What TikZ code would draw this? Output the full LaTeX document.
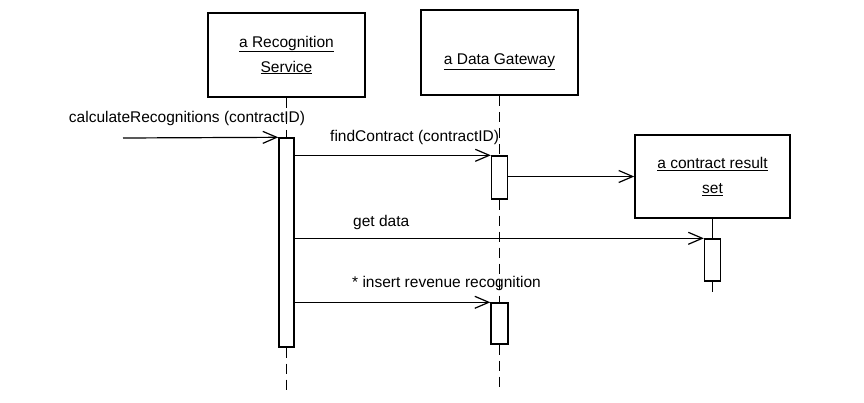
\documentclass[tikz,border=0pt]{standalone}
\usepackage{fontspec}
\setmainfont{Liberation Sans}
\usetikzlibrary{arrows.meta}
\begin{document}
\begin{tikzpicture}[x=1pt,y=-1pt,
  obj/.style={draw,line width=1.5pt,inner sep=0pt,align=center,font=\fontsize{15.5}{25}\selectfont},
  actbar/.style={draw,line width=1.4pt,fill=white,inner sep=0pt},
  msg/.style={line width=1.2pt,-{Straight Barb[length=14pt,width=12pt,line width=1.2pt]}},
  life/.style={line width=1.2pt,dash pattern=on 10pt off 6pt},
  lifesolid/.style={line width=1.2pt},
  lbl/.style={font=\fontsize{15.5}{18}\selectfont,inner sep=0pt}]
\useasboundingbox[fill=white] (0,0) rectangle (864,402);

% objects
\node[obj,minimum width=157pt,minimum height=84pt] (box1) at (286.5,55) {\underline{a Recognition}\\\underline{Service}};
\node[obj,minimum width=157pt,minimum height=85pt] (box2) at (499.5,52.5) {\raisebox{-12pt}[0pt][0pt]{\underline{a Data Gateway}}};
\node[obj,minimum width=155pt,minimum height=83pt] (rs) at (712.5,176.5) {\underline{a contract result}\\\underline{set}};

% end points of lifelines
\coordinate (end1) at (286.5,390);
\coordinate (end2) at (499.5,387);
\coordinate (end3) at (712.5,293);
\coordinate (src) at (123,138);

% activation positions (invisible first for lifelines)
\path (286.5,242.5) node[actbar,draw=none,fill=none,minimum width=15pt,minimum height=209pt] (act1) {};
\path (499.5,177.5) node[actbar,draw=none,fill=none,minimum width=16pt,minimum height=43pt] (act2) {};
\path (712.5,260) node[actbar,draw=none,fill=none,minimum width=16pt,minimum height=42pt] (act3) {};
\path (499.5,323.5) node[actbar,draw=none,fill=none,minimum width=17pt,minimum height=41pt] (act4) {};

% lifelines
\draw[life] (box1.south) -- (act1.north);
\draw[life] (act1.south) -- (end1);
\draw[life] (box2.south) -- (act2.north);
\draw[life] (act2.south) -- (act4.north);
\draw[life] (act4.south) -- (end2);
\draw[lifesolid] (rs.south) -- (act3.north);
\draw[life] (act3.south) -- (end3);

% activation bars
\node[actbar,minimum width=15pt,minimum height=209pt] at (act1.center) {};
\node[actbar,minimum width=16pt,minimum height=43pt] at (act2.center) {};
\node[actbar,minimum width=16pt,minimum height=42pt] at (act3.center) {};
\node[actbar,minimum width=17pt,minimum height=41pt] at (act4.center) {};

% messages
\draw[msg] (src) -- (act1.north west);
\draw[msg] (act1.east |- act2.north) -- (act2.north west);
\draw[msg] (act2.east |- rs.west) -- (rs.west);
\draw[msg] (act1.east |- act3.north) -- (act3.north west);
\draw[msg] (act1.east |- act4.north) -- (act4.north west);

% labels
\node[lbl] (lcalc) at (187,118) {calculateRecognitions (contractID)};
\node[lbl,anchor=west] (lfind) at (330,137) {findContract (contractID)};
\node[lbl,anchor=west] (lget) at (353,222) {get data};
\node[lbl,anchor=west] (lins) at (352,283) {* insert revenue recognition};
\end{tikzpicture}
\end{document}
